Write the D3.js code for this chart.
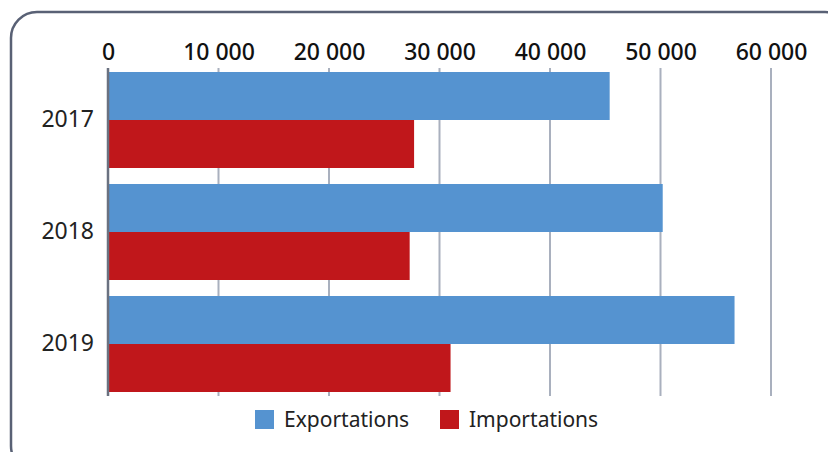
<!DOCTYPE html>
<html><head><meta charset="utf-8">
<script src="https://cdn.jsdelivr.net/npm/d3@7"></script>
<style>body{margin:0;background:#fff}svg{display:block}</style>
</head><body>
<svg id="c" width="828" height="452"></svg>
<script>
const years = ["2017", "2018", "2019"];
const exportations = [45400, 50200, 56700];
const importations = [27700, 27300, 31000];
const seriesNames = ["Exportations", "Importations"];
const seriesColors = ["#5593d0", "#c0171b"];
const tickValues = [0, 10000, 20000, 30000, 40000, 50000, 60000];

const svg = d3.select("#c");
const font = "'Noto Sans', sans-serif";

svg.append("rect").attr("x", 11).attr("y", 12).attr("width", 840).attr("height", 460)
  .attr("rx", 26).attr("fill", "none").attr("stroke", "#596175").attr("stroke-width", 2.5);

const x = d3.scaleLinear().domain([0, 60000]).range([108, 771]);
const y = d3.scaleBand().domain(years).range([64, 400]).paddingInner(1/7).paddingOuter(1/14);
const ySub = d3.scaleBand().domain(seriesNames).range([0, y.bandwidth()]);

// gridlines
svg.append("g").selectAll("line").data(tickValues.slice(1)).join("line")
  .attr("x1", d => x(d)).attr("x2", d => x(d)).attr("y1", 68).attr("y2", 396)
  .attr("stroke", "#a9b0be").attr("stroke-width", 2);

// top axis labels
const ax = svg.append("g").attr("transform", "translate(0,60)")
  .call(d3.axisTop(x).tickValues(tickValues).tickSize(0).tickPadding(0)
    .tickFormat(d => d3.format(",")(d).replace(/,/g, " ")));
ax.select(".domain").remove();
ax.selectAll("text").attr("font-family", font).attr("font-size", 23).attr("font-weight", 500)
  .attr("fill", "#111").attr("dy", 0);

// bars
const rows = years.map((yr, i) => ({year: yr, vals: [exportations[i], importations[i]]}));
const g = svg.append("g");
rows.forEach(r => {
  r.vals.forEach((v, j) => {
    g.append("rect").attr("x", x(0)).attr("y", y(r.year) + ySub(seriesNames[j]))
      .attr("width", x(v) - x(0)).attr("height", ySub.bandwidth())
      .attr("fill", seriesColors[j]);
  });
});

// axis line
svg.append("line").attr("x1", x(0)).attr("x2", x(0)).attr("y1", 68).attr("y2", 396)
  .attr("stroke", "#6a7180").attr("stroke-width", 2.5);

// year labels
const ay = svg.append("g").attr("transform", "translate(94,0)")
  .call(d3.axisLeft(y).tickSize(0).tickPadding(0));
ay.select(".domain").remove();
ay.selectAll("text").attr("font-family", font).attr("font-size", 23).attr("fill", "#222");

// legend
const legendX = [255, 440];
seriesNames.forEach((n, i) => {
  svg.append("rect").attr("x", legendX[i]).attr("y", 410).attr("width", 19).attr("height", 19)
    .attr("fill", seriesColors[i]);
  svg.append("text").attr("x", legendX[i] + 29).attr("y", 427).text(n)
    .attr("font-family", font).attr("font-size", 21).attr("fill", "#222");
});
</script>
</body></html>
